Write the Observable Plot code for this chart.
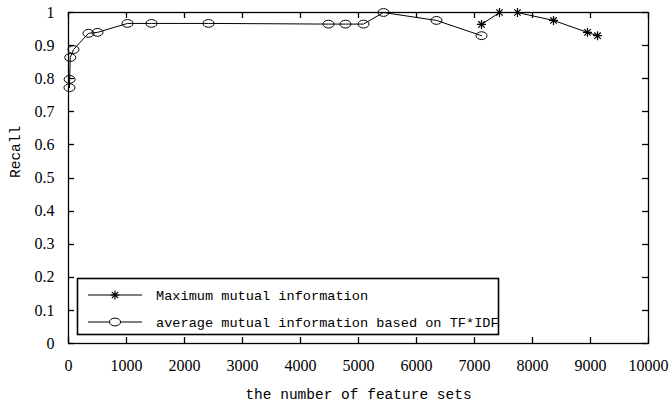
<!DOCTYPE html>
<html><head><meta charset="utf-8">
<script src="https://cdn.jsdelivr.net/npm/d3@7"></script>
<script src="https://cdn.jsdelivr.net/npm/@observablehq/plot@0.6"></script>
<style>body{margin:0;background:#fff}</style>
</head><body><div id="chart"></div>
<script>
// average mutual information based on TF*IDF (circles)
const avgX = [17, 20, 30, 86, 345, 500, 1017, 1431, 2414, 4483, 4776, 5086, 5431, 6345, 7121];
const avgY = [0.773, 0.798, 0.864, 0.888, 0.937, 0.940, 0.967, 0.967, 0.967, 0.965, 0.965, 0.965, 1.0, 0.976, 0.930];
// Maximum mutual information (stars)
const maxX = [7121, 7431, 7741, 8362, 8948, 9121];
const maxY = [0.964, 1.0, 1.0, 0.976, 0.940, 0.930];
const xTicks = [0, 1000, 2000, 3000, 4000, 5000, 6000, 7000, 8000, 9000, 10000];
const yTicks = [0, 0.1, 0.2, 0.3, 0.4, 0.5, 0.6, 0.7, 0.8, 0.9, 1];
const seriesNames = ["Maximum mutual information", "average mutual information based on TF*IDF"];
const xLabel = "the number of feature sets";
const yLabel = "Recall";

const avgData = avgX.map((x, i) => ({x, y: avgY[i]}));
const maxData = maxX.map((x, i) => ({x, y: maxY[i]}));

const ellipse = {draw(ctx) {
  const rx = 5.5, ry = 3.9, k = 0.5523;
  ctx.moveTo(rx, 0);
  ctx.bezierCurveTo(rx, ry * k, rx * k, ry, 0, ry);
  ctx.bezierCurveTo(-rx * k, ry, -rx, ry * k, -rx, 0);
  ctx.bezierCurveTo(-rx, -ry * k, -rx * k, -ry, 0, -ry);
  ctx.bezierCurveTo(rx * k, -ry, rx, -ry * k, rx, 0);
  ctx.closePath();
}};
const star = {draw(ctx) {
  const r = 4.5, d = 3.2;
  ctx.moveTo(-r, 0); ctx.lineTo(r, 0);
  ctx.moveTo(0, -r); ctx.lineTo(0, r);
  ctx.moveTo(-d, -d); ctx.lineTo(d, d);
  ctx.moveTo(-d, d); ctx.lineTo(d, -d);
}};

const serif = "Liberation Serif";
const mono = "Liberation Mono";
const tk = 6;

const chart = Plot.plot({
  width: 671,
  height: 413,
  marginLeft: 68,
  marginRight: 23,
  marginTop: 12,
  marginBottom: 70,
  style: {background: "#fff", color: "#000", fontFamily: serif},
  x: {domain: [0, 10000], ticks: xTicks},
  y: {domain: [0, 1], ticks: yTicks},
  marks: [
    Plot.frame({stroke: "#000", fill: "none", strokeWidth: 1.3}),
    Plot.axisX({anchor: "bottom", ticks: xTicks, tickSize: 0, tickPadding: 16, tickFormat: d => String(d), fontSize: 16, fontFamily: serif, label: null, lineAnchor: "top"}),
    Plot.axisY({anchor: "left", ticks: yTicks, tickSize: 0, tickPadding: 14, tickFormat: d => String(+d.toFixed(1)), fontSize: 16, fontFamily: serif, label: null}),
    Plot.line(avgData, {x: "x", y: "y", stroke: "#000", strokeWidth: 1}),
    Plot.dot(avgData, {x: "x", y: "y", symbol: ellipse, stroke: "#000", fill: "none", strokeWidth: 1}),
    Plot.line(maxData, {x: "x", y: "y", stroke: "#000", strokeWidth: 1}),
    Plot.dot(maxData, {x: "x", y: "y", symbol: star, stroke: "#000", fill: "none", strokeWidth: 1.2}),
    Plot.text([xLabel], {frameAnchor: "bottom", dy: 55, text: d => d, fontSize: 14.5, fontFamily: mono, fill: "#000"}),
    Plot.text([yLabel], {frameAnchor: "left", dx: -53, rotate: -90, text: d => d, fontSize: 14.5, fontFamily: mono, fill: "#000"})
  ]
});
document.getElementById("chart").appendChild(chart);

const svg = d3.select(chart);
const sx = chart.scale("x"), sy = chart.scale("y");
const [x0, x1] = sx.range, [y0, y1] = sy.range; // y0 bottom, y1 top

// inward ticks on all four sides, placed with Plot's own scales
const tg = svg.append("g").attr("stroke", "#000").attr("stroke-width", 1.3);
xTicks.forEach(v => {
  const px = Math.round(sx.apply(v)) + 0.5;
  tg.append("line").attr("x1", px).attr("x2", px).attr("y1", y0).attr("y2", y0 - tk);
  tg.append("line").attr("x1", px).attr("x2", px).attr("y1", y1).attr("y2", y1 + tk);
});
yTicks.forEach(v => {
  const py = Math.round(sy.apply(v)) + 0.5;
  tg.append("line").attr("x1", x0).attr("x2", x0 + tk).attr("y1", py).attr("y2", py);
  tg.append("line").attr("x1", x1).attr("x2", x1 - tk).attr("y1", py).attr("y2", py);
});

// legend inside the plot area
const g = svg.append("g").attr("text-anchor", "start");
g.append("rect").attr("x", 77.5).attr("y", 278.5).attr("width", 421).attr("height", 56)
  .attr("fill", "#fff").attr("stroke", "#000").attr("stroke-width", 1.6);
const symbols = [star, ellipse];
seriesNames.forEach((name, i) => {
  const cy = 295 + i * 27;
  g.append("line").attr("x1", 88).attr("x2", 142).attr("y1", cy).attr("y2", cy).attr("stroke", "#000");
  const p = d3.path(); symbols[i].draw(p);
  g.append("path").attr("d", p.toString()).attr("transform", `translate(115,${cy})`)
    .attr("fill", i ? "#fff" : "none").attr("stroke", "#000").attr("stroke-width", i ? 1 : 1.2);
  g.append("text").attr("x", 156).attr("y", cy).attr("dy", "0.35em").attr("text-anchor", "start")
    .attr("font-family", mono).attr("font-size", 13.6).attr("fill", "#000").text(name);
});
</script>
</body></html>
